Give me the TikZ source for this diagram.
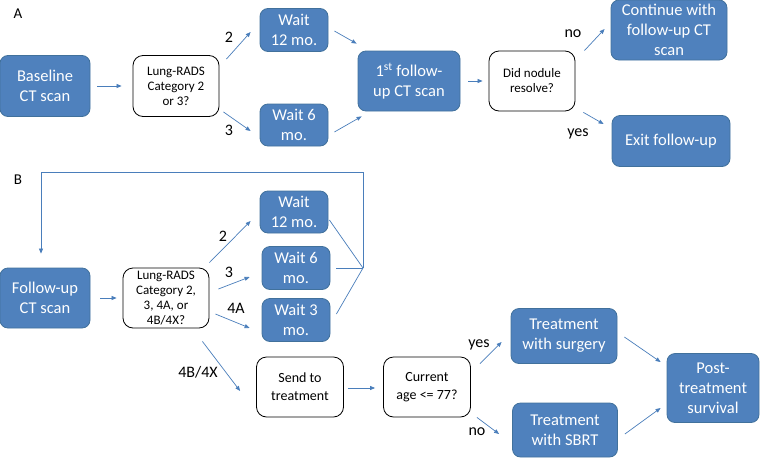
\documentclass[tikz,border=0pt]{standalone}
\usepackage{fontspec}
\setmainfont{Carlito}
\usetikzlibrary{arrows.meta}
\definecolor{boxblue}{HTML}{4F81BD}
\definecolor{boxedge}{HTML}{41719C}
\definecolor{arrblue}{HTML}{4A7EBB}
\tikzset{
  bluebox/.style={fill=boxblue, draw=boxedge, line width=0.8pt, rounded corners=8pt, text=white,
    font=\fontsize{16.5}{20}\selectfont, align=center, inner sep=0pt, anchor=center},
  whitebox/.style={fill=white, draw=black, line width=0.8pt, rounded corners=10pt, text=black,
    font=\fontsize{13}{15}\selectfont, align=center, inner sep=0pt, anchor=center},
  whitebig/.style={whitebox, font=\fontsize{14}{18}\selectfont},
  arr/.style={draw=arrblue, line width=0.7pt, -{Triangle[length=5pt,width=4pt]}},
  plainline/.style={draw=arrblue, line width=0.7pt},
  lbl/.style={font=\fontsize{16}{18}\selectfont, text=black, inner sep=0pt},
  panel/.style={font=\fontsize{15}{18}\selectfont, text=black, inner sep=0pt}
}
\begin{document}
\begin{tikzpicture}[x=1pt,y=-1pt]
\useasboundingbox (0,0) rectangle (760,458);
% Panel A
\node[panel] (labA) at (18,14) {A};
\node[bluebox, minimum width=90pt, minimum height=61pt] (base) at (45,86) {Baseline\\CT scan};
\node[whitebox, minimum width=86pt, minimum height=61pt] (lrA) at (176,86) {Lung-RADS\\Category 2\\or 3?};
\node[bluebox, minimum width=68pt, minimum height=43pt] (w12a) at (294,30) {Wait\\12 mo.};
\node[bluebox, minimum width=68pt, minimum height=42pt] (w6a) at (294,125) {Wait 6\\mo.};
\node[bluebox, minimum width=102pt, minimum height=60pt] (fu1) at (409,81) {1\textsuperscript{st} follow-\\up CT scan};
\node[whitebox, minimum width=86pt, minimum height=60pt] (dnr) at (532,81) {Did nodule\\resolve?};
\node[bluebox, minimum width=116pt, minimum height=60pt] (cont) at (669,30) {Continue with\\follow-up CT\\scan};
\node[bluebox, minimum width=118pt, minimum height=51pt] (exit) at (671,141) {Exit follow-up};

\draw[arr] ([shift={(7,0)}]base.east) -- ([shift={(-11,0)}]lrA.west);
\draw[arr] ([shift={(7,4)}]lrA.north east) -- ([shift={(-9,2)}]w12a.west);
\draw[arr] ([shift={(4,-5)}]lrA.south east) -- ([shift={(-9,6)}]w6a.west);
\draw[arr] ([shift={(6,1)}]w12a.east) -- ([shift={(-1,-7)}]fu1.north west);
\draw[arr] ([shift={(6,7)}]w6a.east) -- ([shift={(4,5)}]fu1.south west);
\draw[arr] ([shift={(8,0)}]fu1.east) -- ([shift={(-6,0)}]dnr.west);
\draw[arr] ([shift={(9,0)}]dnr.north east) -- ([shift={(-6,-1)}]cont.west);
\draw[arr] ([shift={(8,1)}]dnr.south east) -- ([shift={(-8,-17)}]exit.west);
\node[lbl] (l2a) at (229,37) {2};
\node[lbl] (l3a) at (229,130) {3};
\node[lbl] (lnoa) at (573,34) {no};
\node[lbl] (lyesa) at (578,134) {yes};

% Panel B
\node[panel] (labB) at (18,180) {B};
\node[bluebox, minimum width=90pt, minimum height=60pt] (fub) at (45,298) {Follow-up\\CT scan};
\node[whitebox, minimum width=86pt, minimum height=60pt] (lrB) at (166,298) {Lung-RADS\\Category 2,\\3, 4A, or\\4B/4X?};
\node[bluebox, minimum width=68pt, minimum height=42pt] (w12b) at (294,212) {Wait\\12 mo.};
\node[bluebox, minimum width=68pt, minimum height=43pt] (w6b) at (296,268) {Wait 6\\mo.};
\node[bluebox, minimum width=68pt, minimum height=43pt] (w3b) at (296,320) {Wait 3\\mo.};
\node[whitebig, minimum width=87pt, minimum height=60pt] (send) at (300,387) {Send to\\treatment};
\node[whitebig, minimum width=87pt, minimum height=60pt] (age) at (427,387) {Current\\age <= 77?};
\node[bluebox, minimum width=106pt, minimum height=55pt] (surg) at (564,336) {Treatment\\with surgery};
\node[bluebox, minimum width=105pt, minimum height=54pt] (sbrt) at (565,430) {Treatment\\with SBRT};
\node[bluebox, minimum width=92pt, minimum height=69pt] (post) at (713,388) {Post-\\treatment\\survival};
\coordinate (J) at (363,268);

\draw[arr] ([shift={(10,0)}]fub.east) -- ([shift={(-6,0)}]lrB.west);
\draw[arr] ([shift={(0,-5)}]lrB.north east) -- ([shift={(-9,9)}]w12b.west);
\draw[arr] ([shift={(9,-9)}]lrB.east) -- ([shift={(-12,9)}]w6b.west);
\draw[arr] ([shift={(6,16)}]lrB.east) -- ([shift={(-12,8)}]w3b.west);
\draw[arr] ([shift={(-7,13)}]lrB.south east) -- ([shift={(-16,4)}]send.west);
\draw[plainline] ([shift={(1,8)}]w12b.east) -- (J);
\draw[plainline] ([shift={(6,0)}]w6b.east) -- (J);
\draw[plainline] ([shift={(6,-6)}]w3b.east) -- (J);
\draw[arr] (J) -- ++(0,-96) -| ([shift={(-4,-14)}]fub.north);
\draw[arr] ([shift={(4,1)}]send.east) -- ([shift={(-8,1)}]age.west);
\draw[arr] ([shift={(9,7)}]age.north east) -- ([shift={(-9,6)}]surg.west);
\draw[arr] ([shift={(6,0)}]age.south east) -- ([shift={(-13,4)}]sbrt.west);
\draw[arr] ([shift={(7,1)}]surg.east) -- ([shift={(-6,-26)}]post.west);
\draw[arr] ([shift={(7,4)}]sbrt.east) -- ([shift={(-6,20)}]post.west);
\node[lbl] (l2b) at (223,236) {2};
\node[lbl] (l3b) at (229,272) {3};
\node[lbl] (l4ab) at (236,308) {4A};
\node[lbl] (l4bb) at (198,372) {4B/4X};
\node[lbl] (lyesb) at (479,345) {yes};
\node[lbl] (lnob) at (477,432) {no};
\end{tikzpicture}
\end{document}
